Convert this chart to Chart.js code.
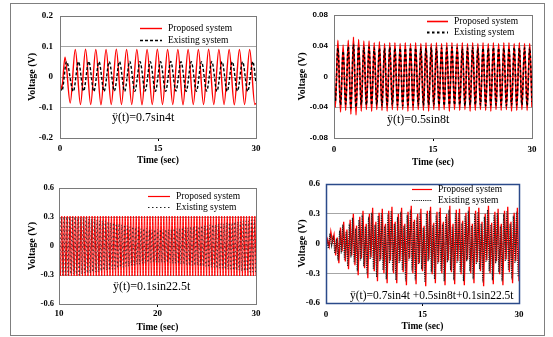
<!DOCTYPE html>
<html>
<head>
<meta charset="utf-8">
<script src="https://cdn.jsdelivr.net/npm/chart.js@4.4.1/dist/chart.umd.min.js"></script>
<style>
  body { margin:0; width:553px; height:337px; background:#fff; position:relative; overflow:hidden; }
  .frame { position:absolute; left:10px; top:3px; width:533px; height:331px; border:1px solid #7f7f7f; }
  canvas { position:absolute; }
</style>
</head>
<body>
<div class="frame"></div>
<canvas id="c1" width="275" height="168" style="left:0;top:0"></canvas>
<canvas id="c2" width="278" height="168" style="left:275px;top:0"></canvas>
<canvas id="c3" width="275" height="169" style="left:0;top:168px"></canvas>
<canvas id="c4" width="278" height="169" style="left:275px;top:168px"></canvas>
<script>
// ---- data ----
const seriesNames = ['Proposed system', 'Existing system'];

// panel 1 : 0.7sin4t
const xTicks1 = [0, 15, 30];
const yTicks1 = [-0.2, -0.1, 0, 0.1, 0.2];
const t1Prop = [0, 0.25, 0.77, 1.56, 2.34, 3.13, 3.91, 4.70, 5.48, 6.27, 7.05, 7.84, 8.62, 9.41, 10.19, 10.98, 11.76, 12.55, 13.33, 14.12,
  14.90, 15.69, 16.47, 17.26, 18.04, 18.83, 19.61, 20.40, 21.18, 21.97, 22.75, 23.54, 24.32, 25.11, 25.89, 26.68, 27.46, 28.25, 29.03, 29.82, 30];
const v1Prop = [-0.015, -0.04, 0.065, -0.085, 0.09, -0.09, 0.091, -0.09, 0.09, -0.091, 0.09, -0.09, 0.091, -0.09, 0.09, -0.09, 0.09, -0.091, 0.09, -0.09,
  0.091, -0.09, 0.09, -0.09, 0.09, -0.091, 0.09, -0.09, 0.09, -0.09, 0.091, -0.09, 0.09, -0.09, 0.09, -0.091, 0.09, -0.09, 0.09, -0.09, -0.086];
const t1Exist = [0, 0.3, 1.0, 2.04, 2.83, 3.61, 4.40, 5.18, 5.97, 6.75, 7.54, 8.32, 9.11, 9.89, 10.68, 11.46, 12.25, 13.03, 13.82, 14.60,
  15.39, 16.17, 16.96, 17.74, 18.53, 19.31, 20.10, 20.88, 21.67, 22.45, 23.24, 24.02, 24.81, 25.59, 26.38, 27.16, 27.95, 28.73, 29.52, 30];
const v1Exist = [-0.035, -0.045, 0.05, -0.047, 0.05, -0.046, 0.051, -0.047, 0.05, -0.047, 0.05, -0.046, 0.05, -0.047, 0.051, -0.047, 0.05, -0.046, 0.05, -0.047,
  0.05, -0.047, 0.051, -0.046, 0.05, -0.047, 0.05, -0.047, 0.05, -0.046, 0.051, -0.047, 0.05, -0.047, 0.05, -0.046, 0.05, -0.047, 0.05, -0.02];

// panel 2 : 0.5sin8t
const xTicks2 = [0, 15, 30];
const yTicks2 = [-0.08, -0.04, 0, 0.04, 0.08];
const t2 = [0, 0.20, 0.59, 0.99, 1.38, 1.77, 2.16, 2.56, 2.95, 3.34, 3.73, 4.13, 4.52, 4.91, 5.31, 5.70, 6.09, 6.48, 6.88, 7.27,
  7.66, 8.05, 8.45, 8.84, 9.23, 9.62, 10.02, 10.41, 10.80, 11.20, 11.59, 11.98, 12.37, 12.77, 13.16, 13.55, 13.94, 14.34, 14.73, 15.12,
  15.52, 15.91, 16.30, 16.69, 17.09, 17.48, 17.87, 18.26, 18.66, 19.05, 19.44, 19.84, 20.23, 20.62, 21.01, 21.41, 21.80, 22.19, 22.58, 22.98,
  23.37, 23.76, 24.15, 24.55, 24.94, 25.33, 25.73, 26.12, 26.51, 26.90, 27.30, 27.69, 28.08, 28.47, 28.87, 29.26, 29.65, 30];
const v2Prop = [0, -0.04, 0.047, -0.046, 0.041, -0.044, 0.047, -0.049, 0.051, -0.05, 0.048, -0.045, 0.046, -0.043, 0.046, -0.045, 0.044, -0.043, 0.045, -0.044,
  0.043, -0.045, 0.044, -0.043, 0.044, -0.044, 0.043, -0.043, 0.044, -0.045, 0.043, -0.044, 0.044, -0.043, 0.043, -0.044, 0.044, -0.045, 0.043, -0.043,
  0.044, -0.044, 0.043, -0.043, 0.044, -0.045, 0.044, -0.043, 0.043, -0.044, 0.044, -0.043, 0.043, -0.045, 0.044, -0.044, 0.043, -0.043, 0.044, -0.044,
  0.043, -0.045, 0.044, -0.043, 0.043, -0.044, 0.044, -0.043, 0.044, -0.045, 0.043, -0.044, 0.044, -0.043, 0.043, -0.044, 0.043, -0.04];
const v2Exist = [0, -0.032, 0.037, -0.037, 0.033, -0.036, 0.039, -0.041, 0.042, -0.04, 0.039, -0.037, 0.038, -0.037, 0.038, -0.037, 0.037, -0.037, 0.037, -0.038,
  0.037, -0.037, 0.038, -0.037, 0.037, -0.037, 0.037, -0.038, 0.037, -0.037, 0.038, -0.037, 0.037, -0.037, 0.037, -0.038, 0.037, -0.037, 0.038, -0.037,
  0.037, -0.037, 0.037, -0.038, 0.037, -0.037, 0.038, -0.037, 0.037, -0.037, 0.037, -0.038, 0.037, -0.037, 0.038, -0.037, 0.037, -0.037, 0.037, -0.038,
  0.037, -0.037, 0.038, -0.037, 0.037, -0.037, 0.037, -0.038, 0.037, -0.037, 0.038, -0.037, 0.037, -0.037, 0.037, -0.038, 0.037, -0.033];

// panel 3 : 0.1sin22.5t
const xTicks3 = [10, 20, 30];
const yTicks3 = [-0.6, -0.3, 0, 0.3, 0.6];
const t3Prop = [10.00, 10.14, 10.28, 10.42, 10.56, 10.70, 10.84, 10.98, 11.12, 11.26, 11.40, 11.54, 11.68, 11.82, 11.96, 12.10, 12.24, 12.38, 12.52, 12.66,
  12.80, 12.94, 13.08, 13.22, 13.36, 13.50, 13.64, 13.78, 13.92, 14.06, 14.20, 14.34, 14.48, 14.62, 14.76, 14.90, 15.04, 15.18, 15.32, 15.46,
  15.60, 15.74, 15.88, 16.02, 16.16, 16.30, 16.44, 16.58, 16.72, 16.86, 17.00, 17.14, 17.28, 17.42, 17.56, 17.70, 17.84, 17.98, 18.12, 18.26,
  18.40, 18.54, 18.68, 18.82, 18.96, 19.10, 19.24, 19.38, 19.52, 19.66, 19.80, 19.94, 20.08, 20.22, 20.36, 20.50, 20.64, 20.78, 20.92, 21.06,
  21.20, 21.34, 21.48, 21.62, 21.76, 21.90, 22.04, 22.18, 22.32, 22.46, 22.60, 22.74, 22.88, 23.02, 23.16, 23.30, 23.44, 23.58, 23.72, 23.86,
  24.00, 24.14, 24.28, 24.42, 24.56, 24.70, 24.84, 24.98, 25.12, 25.26, 25.40, 25.54, 25.68, 25.82, 25.96, 26.10, 26.24, 26.38, 26.52, 26.66,
  26.80, 26.94, 27.08, 27.22, 27.36, 27.50, 27.64, 27.78, 27.92, 28.06, 28.20, 28.34, 28.48, 28.62, 28.76, 28.90, 29.04, 29.18, 29.32, 29.46,
  29.60, 29.74, 29.88, 30];
const v3Prop = [0.31, -0.31, 0.31, -0.31, 0.31, -0.31, 0.31, -0.31, 0.31, -0.31, 0.31, -0.31, 0.31, -0.31, 0.31, -0.31, 0.31, -0.31, 0.31, -0.31,
  0.31, -0.31, 0.31, -0.31, 0.31, -0.31, 0.31, -0.31, 0.31, -0.31, 0.31, -0.31, 0.31, -0.31, 0.31, -0.31, 0.31, -0.31, 0.31, -0.31,
  0.31, -0.31, 0.31, -0.31, 0.31, -0.31, 0.31, -0.31, 0.31, -0.31, 0.31, -0.31, 0.31, -0.31, 0.31, -0.31, 0.31, -0.31, 0.31, -0.31,
  0.31, -0.31, 0.31, -0.31, 0.31, -0.31, 0.31, -0.31, 0.31, -0.31, 0.31, -0.31, 0.31, -0.31, 0.31, -0.31, 0.31, -0.31, 0.31, -0.31,
  0.31, -0.31, 0.31, -0.31, 0.31, -0.31, 0.31, -0.31, 0.31, -0.31, 0.31, -0.31, 0.31, -0.31, 0.31, -0.31, 0.31, -0.31, 0.31, -0.31,
  0.31, -0.31, 0.31, -0.31, 0.31, -0.31, 0.31, -0.31, 0.31, -0.31, 0.31, -0.31, 0.31, -0.31, 0.31, -0.31, 0.31, -0.31, 0.31, -0.31,
  0.31, -0.31, 0.31, -0.31, 0.31, -0.31, 0.31, -0.31, 0.31, -0.31, 0.31, -0.31, 0.31, -0.31, 0.31, -0.31, 0.31, -0.31, 0.31, -0.31,
  0.31, -0.31, 0.31, -0.31];
const t3Exist = [10.07, 10.21, 10.35, 10.49, 10.63, 10.77, 10.91, 11.05, 11.19, 11.33, 11.47, 11.61, 11.75, 11.89, 12.03, 12.17, 12.31, 12.45, 12.59, 12.73,
  12.87, 13.01, 13.15, 13.29, 13.43, 13.57, 13.71, 13.85, 13.99, 14.13, 14.27, 14.41, 14.55, 14.69, 14.83, 14.97, 15.11, 15.25, 15.39, 15.53,
  15.67, 15.81, 15.95, 16.09, 16.23, 16.37, 16.51, 16.65, 16.79, 16.93, 17.07, 17.21, 17.35, 17.49, 17.63, 17.77, 17.91, 18.05, 18.19, 18.33,
  18.47, 18.61, 18.75, 18.89, 19.03, 19.17, 19.31, 19.45, 19.59, 19.73, 19.87, 20.01, 20.15, 20.29, 20.43, 20.57, 20.71, 20.85, 20.99, 21.13,
  21.27, 21.41, 21.55, 21.69, 21.83, 21.97, 22.11, 22.25, 22.39, 22.53, 22.67, 22.81, 22.95, 23.09, 23.23, 23.37, 23.51, 23.65, 23.79, 23.93,
  24.07, 24.21, 24.35, 24.49, 24.63, 24.77, 24.91, 25.05, 25.19, 25.33, 25.47, 25.61, 25.75, 25.89, 26.03, 26.17, 26.31, 26.45, 26.59, 26.73,
  26.87, 27.01, 27.15, 27.29, 27.43, 27.57, 27.71, 27.85, 27.99, 28.13, 28.27, 28.41, 28.55, 28.69, 28.83, 28.97, 29.11, 29.25, 29.39, 29.53,
  29.67, 29.81, 29.95];
const v3Exist = [-0.3, 0.3, -0.3, 0.3, -0.3, 0.3, -0.3, 0.3, -0.29, 0.3, -0.29, 0.3, -0.29, 0.29, -0.3, 0.29, -0.29, 0.29, -0.28, 0.29,
  -0.28, 0.28, -0.28, 0.28, -0.27, 0.28, -0.27, 0.27, -0.27, 0.26, -0.26, 0.26, -0.25, 0.26, -0.25, 0.25, -0.25, 0.24, -0.24, 0.24,
  -0.24, 0.23, -0.23, 0.23, -0.22, 0.22, -0.22, 0.22, -0.21, 0.21, -0.21, 0.2, -0.2, 0.2, -0.2, 0.19, -0.19, 0.19, -0.19, 0.18,
  -0.18, 0.18, -0.18, 0.18, -0.17, 0.17, -0.17, 0.17, -0.17, 0.17, -0.17, 0.17, -0.17, 0.17, -0.17, 0.17, -0.17, 0.17, -0.17, 0.17,
  -0.17, 0.17, -0.18, 0.18, -0.18, 0.18, -0.18, 0.18, -0.19, 0.19, -0.19, 0.19, -0.19, 0.19, -0.2, 0.2, -0.2, 0.2, -0.2, 0.2,
  -0.2, 0.2, -0.21, 0.21, -0.21, 0.21, -0.21, 0.21, -0.22, 0.22, -0.22, 0.22, -0.22, 0.22, -0.23, 0.23, -0.23, 0.23, -0.23, 0.23,
  -0.24, 0.24, -0.24, 0.24, -0.24, 0.24, -0.25, 0.25, -0.25, 0.25, -0.25, 0.25, -0.26, 0.26, -0.26, 0.26, -0.26, 0.26, -0.27, 0.27,
  -0.27, 0.27, -0.27];

// panel 4 : 0.7sin4t+0.5sin8t+0.1sin22.5t
const xTicks4 = [0, 15, 30];
const yTicks4 = [-0.6, -0.3, 0, 0.3, 0.6];
const t4Prop = [0, 0.25, 0.5, 0.75, 1, 1.25, 1.5, 1.75, 2, 2.25, 2.5, 2.75, 3, 3.25, 3.5, 3.75, 4, 4.25, 4.5, 4.75,
  5, 5.25, 5.5, 5.75, 6, 6.25, 6.5, 6.75, 7, 7.25, 7.5, 7.75, 8, 8.25, 8.5, 8.75, 9, 9.25, 9.5, 9.75,
  10, 10.25, 10.5, 10.75, 11, 11.25, 11.5, 11.75, 12, 12.25, 12.5, 12.75, 13, 13.25, 13.5, 13.75, 14, 14.25, 14.5, 14.75,
  15, 15.25, 15.5, 15.75, 16, 16.25, 16.5, 16.75, 17, 17.25, 17.5, 17.75, 18, 18.25, 18.5, 18.75, 19, 19.25, 19.5, 19.75,
  20, 20.25, 20.5, 20.75, 21, 21.25, 21.5, 21.75, 22, 22.25, 22.5, 22.75, 23, 23.25, 23.5, 23.75, 24, 24.25, 24.5, 24.75,
  25, 25.25, 25.5, 25.75, 26, 26.25, 26.5, 26.75, 27, 27.25, 27.5, 27.75, 28, 28.25, 28.5, 28.75, 29, 29.25, 29.5, 29.75, 30];
const v4Prop = [-0.05, 0.04, -0.03, 0.12, 0.02, 0.09, -0.12, 0.06, -0.2, 0.16,
  -0.08, 0.22, -0.18, 0.14, -0.26, 0.24, -0.12, 0.3, -0.22, 0.18,
  -0.32, 0.27, -0.15, 0.33, -0.25, 0.2, -0.35, 0.3, -0.14, 0.36,
  -0.28, 0.22, -0.38, 0.31, -0.16, 0.35, -0.3, 0.2, -0.4, 0.33,
  -0.17, 0.37, -0.3, 0.22, -0.4, 0.3, -0.18, 0.36, -0.29, 0.2,
  -0.42, 0.32, -0.15, 0.38, -0.3, 0.24, -0.41, 0.3, -0.2, 0.35,
  -0.28, 0.18, -0.43, 0.33, -0.16, 0.37, -0.31, 0.21, -0.4, 0.32,
  -0.19, 0.36, -0.3, 0.22, -0.42, 0.3, -0.17, 0.38, -0.29, 0.2,
  -0.41, 0.34, -0.18, 0.35, -0.31, 0.23, -0.42, 0.31, -0.16, 0.37,
  -0.3, 0.2, -0.4, 0.33, -0.19, 0.36, -0.28, 0.22, -0.43, 0.3,
  -0.17, 0.38, -0.3, 0.21, -0.41, 0.32, -0.18, 0.35, -0.31, 0.2,
  -0.42, 0.33, -0.16, 0.37, -0.29, 0.22, -0.4, 0.31, -0.18, 0.36, -0.38];
const t4Exist = [0, 0.12, 0.37, 0.62, 0.87, 1.12, 1.37, 1.62, 1.87, 2.12, 2.37, 2.62, 2.87, 3.12, 3.37, 3.62, 3.87, 4.12, 4.37, 4.62,
  4.87, 5.12, 5.37, 5.62, 5.87, 6.12, 6.37, 6.62, 6.87, 7.12, 7.37, 7.62, 7.87, 8.12, 8.37, 8.62, 8.87, 9.12, 9.37, 9.62,
  9.87, 10.12, 10.37, 10.62, 10.87, 11.12, 11.37, 11.62, 11.87, 12.12, 12.37, 12.62, 12.87, 13.12, 13.37, 13.62, 13.87, 14.12, 14.37, 14.62,
  14.87, 15.12, 15.37, 15.62, 15.87, 16.12, 16.37, 16.62, 16.87, 17.12, 17.37, 17.62, 17.87, 18.12, 18.37, 18.62, 18.87, 19.12, 19.37, 19.62,
  19.87, 20.12, 20.37, 20.62, 20.87, 21.12, 21.37, 21.62, 21.87, 22.12, 22.37, 22.62, 22.87, 23.12, 23.37, 23.62, 23.87, 24.12, 24.37, 24.62,
  24.87, 25.12, 25.37, 25.62, 25.87, 26.12, 26.37, 26.62, 26.87, 27.12, 27.37, 27.62, 27.87, 28.12, 28.37, 28.62, 28.87, 29.12, 29.37, 29.62, 29.87];
const v4Exist = [-0.06, 0.03, -0.05, 0.1, -0.02, 0.08, -0.1, 0.05, -0.17, 0.13,
  -0.1, 0.19, -0.16, 0.12, -0.23, 0.2, -0.14, 0.26, -0.2, 0.15,
  -0.28, 0.24, -0.17, 0.29, -0.23, 0.17, -0.31, 0.27, -0.16, 0.31,
  -0.26, 0.19, -0.34, 0.28, -0.18, 0.31, -0.27, 0.18, -0.36, 0.3,
  -0.2, 0.33, -0.28, 0.2, -0.37, 0.27, -0.2, 0.32, -0.27, 0.18,
  -0.38, 0.29, -0.17, 0.34, -0.28, 0.22, -0.37, 0.27, -0.21, 0.31,
  -0.26, 0.16, -0.39, 0.3, -0.18, 0.33, -0.29, 0.19, -0.36, 0.29,
  -0.21, 0.32, -0.28, 0.2, -0.38, 0.27, -0.19, 0.34, -0.27, 0.18,
  -0.37, 0.31, -0.2, 0.31, -0.29, 0.21, -0.38, 0.28, -0.18, 0.33,
  -0.28, 0.18, -0.36, 0.3, -0.21, 0.32, -0.26, 0.2, -0.39, 0.27,
  -0.19, 0.34, -0.28, 0.19, -0.37, 0.29, -0.2, 0.31, -0.29, 0.18,
  -0.38, 0.3, -0.18, 0.33, -0.27, 0.2, -0.36, 0.28, -0.2, 0.32, -0.34];

// ---- drawing ----
const serif = 'Liberation Serif';
const sans = 'Liberation Sans';
const gridGray = '#a6a6a6';

function fmt(v){
  return String(+v.toFixed(2));
}

function pts(times, values){
  return times.map((t, i) => ({x: t, y: values[i]}));
}

// frame of the plot area, legend inside it and the excitation label
const panelExtras = {
  id: 'panelExtras',
  afterDatasetsDraw(chart, args, o){
    const ctx = chart.ctx;
    const a = chart.chartArea;
    ctx.save();
    ctx.strokeStyle = o.frameColor;
    ctx.lineWidth = o.frameWidth;
    ctx.strokeRect(Math.round(a.left) + 0.5, Math.round(a.top) + 0.5, Math.round(a.right - a.left), Math.round(a.bottom - a.top));
    ctx.font = '9.5px "' + serif + '"';
    ctx.textBaseline = 'middle';
    chart.data.datasets.forEach((ds, i) => {
      const y = o.legendY[i] + 0.5;
      ctx.strokeStyle = ds.borderColor;
      ctx.lineWidth = o.legendWidth[i];
      ctx.setLineDash(ds.borderDash || []);
      ctx.beginPath();
      ctx.moveTo(o.legendX, y);
      ctx.lineTo(o.legendX + o.legendLen, y);
      ctx.stroke();
      ctx.setLineDash([]);
      ctx.fillStyle = '#000';
      ctx.fillText(ds.label, o.legendX + o.legendLen + 6, y);
    });
    ctx.font = o.noteSize + 'px "' + serif + '"';
    ctx.fillText(o.note, o.noteX, o.noteY);
    ctx.restore();
  }
};

function makePanel(id, p){
  let canvas = document.getElementById(id);
  return new Chart(canvas, {
    type: 'line',
    data: {
      datasets: [{
        label: seriesNames[0],
        data: pts(p.tRed, p.vRed),
        borderColor: '#ff0000',
        borderWidth: p.redWidth,
        pointRadius: 0,
        cubicInterpolationMode: p.smooth ? 'monotone' : 'default',
        tension: 0,
        order: 1,
      }, {
        label: seriesNames[1],
        data: pts(p.tBlack, p.vBlack),
        borderColor: p.blackColor,
        borderWidth: p.blackWidth,
        borderDash: p.blackDash,
        pointRadius: 0,
        cubicInterpolationMode: p.smooth ? 'monotone' : 'default',
        tension: 0,
        order: 0,
      }]
    },
    options: {
      responsive: false,
      animation: false,
      devicePixelRatio: 1,
      events: [],
      layout: { padding: { top: p.padTop, right: p.padRight, left: 0, bottom: 0 } },
      plugins: {
        legend: { display: false },
        tooltip: { enabled: false },
        panelExtras: p.extras,
      },
      scales: {
        x: {
          type: 'linear',
          min: p.xTicks[0],
          max: p.xTicks[p.xTicks.length - 1],
          afterBuildTicks: s => { s.ticks = p.xTicks.map(v => ({value: v})); },
          afterFit: s => { s.height = p.xHeight; },
          border: { display: false },
          grid: {
            drawOnChartArea: false,
            drawTicks: true,
            tickLength: 3,
            tickColor: c => (c.index === 1 ? '#000' : 'rgba(0,0,0,0)'),
          },
          ticks: {
            autoSkip: false,
            maxRotation: 0,
            padding: p.xTickPad,
            color: '#000',
            font: { family: serif, size: 9, weight: 'bold' },
            callback: v => fmt(v),
          },
          title: {
            display: true,
            text: 'Time (sec)',
            color: '#000',
            font: { family: serif, size: 9.5, weight: 'bold' },
            padding: { top: 0, bottom: p.xTitlePad },
          }
        },
        y: {
          min: p.yTicks[0],
          max: p.yTicks[p.yTicks.length - 1],
          afterBuildTicks: s => { s.ticks = p.yTicks.map(v => ({value: v})); },
          afterFit: s => { s.width = p.yWidth; },
          border: { display: false },
          grid: { color: gridGray, lineWidth: 1, drawTicks: false },
          ticks: {
            padding: p.yTickPad,
            color: '#000',
            font: { family: p.yFont, size: p.yFontSize, weight: 'bold' },
            callback: v => fmt(v),
          },
          title: {
            display: true,
            text: 'Voltage (V)',
            color: '#000',
            font: { family: serif, size: 10, weight: 'bold' },
            padding: { top: p.yTitlePad, bottom: 0 },
          }
        }
      }
    },
    plugins: [panelExtras]
  });
}

makePanel('c1', {
  tRed: t1Prop, vRed: v1Prop, tBlack: t1Exist, vBlack: v1Exist,
  xTicks: xTicks1, yTicks: yTicks1, smooth: true,
  redWidth: 1.4, blackWidth: 1.4, blackColor: '#000', blackDash: [3, 2],
  padTop: 16, padRight: 19, xHeight: 30, yWidth: 60,
  xTickPad: 2, xTitlePad: 2, yTickPad: 7, yTitlePad: 26,
  yFont: serif, yFontSize: 9,
  extras: { frameColor: '#7a7a7a', frameWidth: 1, legendX: 140, legendLen: 22, legendY: [28, 40], legendWidth: [1.4, 1.4],
    note: 'ÿ(t)=0.7sin4t', noteSize: 12, noteX: 112, noteY: 118 }
});

makePanel('c2', {
  tRed: t2, vRed: v2Prop, tBlack: t2, vBlack: v2Exist,
  xTicks: xTicks2, yTicks: yTicks2, smooth: true,
  redWidth: 1.6, blackWidth: 1.5, blackColor: '#000', blackDash: [2.5, 2.5],
  padTop: 15, padRight: 21, xHeight: 30, yWidth: 59,
  xTickPad: 3, xTitlePad: 0, yTickPad: 6, yTitlePad: 21,
  yFont: sans, yFontSize: 8,
  extras: { frameColor: '#7a7a7a', frameWidth: 1, legendX: 152, legendLen: 21, legendY: [21, 32], legendWidth: [1.6, 2],
    note: 'ÿ(t)=0.5sin8t', noteSize: 12, noteX: 112, noteY: 120 }
});

makePanel('c3', {
  tRed: t3Prop, vRed: v3Prop, tBlack: t3Exist, vBlack: v3Exist,
  xTicks: xTicks3, yTicks: yTicks3, smooth: true,
  redWidth: 1, blackWidth: 0.8, blackColor: '#222', blackDash: [1.5, 2.5],
  padTop: 20, padRight: 19, xHeight: 33, yWidth: 59,
  xTickPad: 1, xTitlePad: 4, yTickPad: 5, yTitlePad: 26,
  yFont: serif, yFontSize: 8.5,
  extras: { frameColor: '#7a7a7a', frameWidth: 1, legendX: 148, legendLen: 22, legendY: [28, 39], legendWidth: [1.2, 1],
    note: 'ÿ(t)=0.1sin22.5t', noteSize: 12, noteX: 113, noteY: 119 }
});

makePanel('c4', {
  tRed: t4Prop, vRed: v4Prop, tBlack: t4Exist, vBlack: v4Exist,
  xTicks: xTicks4, yTicks: yTicks4, smooth: false,
  redWidth: 1.3, blackWidth: 1.2, blackColor: '#222', blackDash: [1.2, 1],
  padTop: 16, padRight: 34, xHeight: 34, yWidth: 51,
  xTickPad: 3, xTitlePad: 5, yTickPad: 6, yTitlePad: 21,
  yFont: serif, yFontSize: 9,
  extras: { frameColor: '#2b4a8a', frameWidth: 1.5, legendX: 137, legendLen: 20, legendY: [21, 32], legendWidth: [1.2, 1],
    note: 'ÿ(t)=0.7sin4t +0.5sin8t+0.1sin22.5t', noteSize: 11.5, noteX: 75, noteY: 128 }
});
</script>
</body>
</html>
